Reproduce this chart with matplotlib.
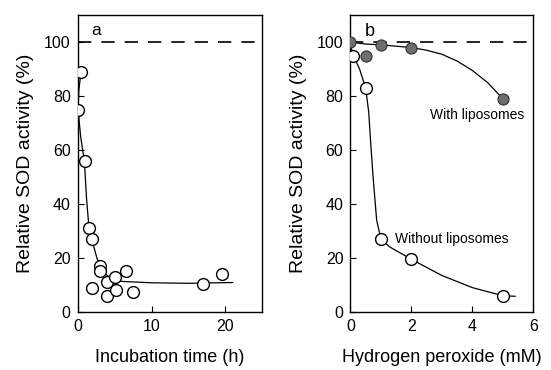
import matplotlib
matplotlib.use('Agg')
from matplotlib import pyplot as plt

plt.rcParams['font.family'] = ['Liberation Sans', 'DejaVu Sans']

# Panel a: SOD activity vs incubation time
time_h = [0.0, 0.5, 1.0, 1.5, 2.0, 2.0, 3.0, 3.0, 4.0, 4.0, 5.0, 5.2, 6.5, 7.5, 17.0, 19.5]
sod_a = [75, 89, 56, 31, 27, 9, 17, 15, 11, 6, 13, 8, 15, 7.5, 10.5, 14]
fit_a_x = [0.45, 0.15, 0.05, 0.4, 0.9, 1.2, 1.5, 2.0, 2.6, 3.3, 4.5, 6.0, 10.0, 15.0, 21.0]
fit_a_y = [89, 82, 75, 65, 56, 42, 32, 26, 20, 15, 12.5, 11.3, 10.8, 10.6, 10.9]

# Panel b: SOD activity vs hydrogen peroxide
h2o2_with = [0.0, 0.5, 1.0, 2.0, 5.0]
sod_with = [100, 95, 99, 98, 79]
h2o2_without = [0.1, 0.5, 1.0, 2.0, 5.0]
sod_without = [95, 83, 27, 19.5, 6]
fit_with_x = [0.0, 0.5, 1.0, 2.0, 2.5, 3.0, 3.5, 4.0, 4.5, 5.0]
fit_with_y = [100, 99.3, 99, 98, 97, 95.5, 93, 89.5, 85, 79]
fit_without_x = [0.0, 0.1, 0.3, 0.5, 0.6, 0.68, 0.75, 0.86, 1.0, 1.3, 2.0, 3.0, 4.0, 5.0, 5.4]
fit_without_y = [99, 95, 90, 83, 74, 60, 49, 34, 27, 24, 19.5, 13.5, 9, 6, 5.8]

fig = plt.figure(figsize=(5.51, 3.7), dpi=100)
ax1 = fig.add_axes([0.141, 0.157, 0.335, 0.802])
ax2 = fig.add_axes([0.636, 0.157, 0.332, 0.802])

open_style = dict(marker='o', ms=8.5, mfc='white', mec='black', mew=1.0, ls='none', zorder=3)

# panel a
ax1.plot(fit_a_x, fit_a_y, c='black', lw=0.9, zorder=2)
ax1.plot(time_h, sod_a, **open_style)
ax1.axhline(100, c='black', lw=1.2, dashes=(8, 6))
ax1.set_xlim(0, 25)
ax1.set_xticks([0, 10, 20])
ax1.text(2.5, 104.5, 'a', fontsize=12.5, ha='center', va='center')
ax1.set_xlabel('Incubation time (h)', fontsize=13, labelpad=11)

# panel b
ax2.plot(fit_with_x, fit_with_y, c='black', lw=0.9, zorder=2)
ax2.plot(fit_without_x, fit_without_y, c='black', lw=0.9, zorder=2)
ax2.plot(h2o2_without, sod_without, **open_style)
ax2.plot(h2o2_with, sod_with, marker='o', ms=8, mfc='#6e6e6e', mec='#333333',
         mew=0.8, ls='none', zorder=4)
ax2.axhline(100, c='black', lw=1.2, dashes=(8, 6))
ax2.set_xlim(0, 6)
ax2.set_xticks([0, 2, 4, 6])
ax2.text(0.65, 104, 'b', fontsize=13, ha='center', va='center')
ax2.text(2.6, 73, 'With liposomes', fontsize=10, ha='left', va='center')
ax2.text(1.45, 27, 'Without liposomes', fontsize=10, ha='left', va='center')
ax2.set_xlabel('Hydrogen peroxide (mM)', fontsize=13, labelpad=11)

for ax in (ax1, ax2):
    ax.set_ylim(0, 110)
    ax.set_yticks([0, 20, 40, 60, 80, 100])
    ax.set_ylabel('Relative SOD activity (%)', fontsize=14, labelpad=7)
    ax.tick_params(axis='both', direction='in', length=4, width=0.8,
                   labelsize=11.5, pad=5)
    for sp in ax.spines.values():
        sp.set_linewidth(1.0)

fig.savefig('out.png', dpi=100)
